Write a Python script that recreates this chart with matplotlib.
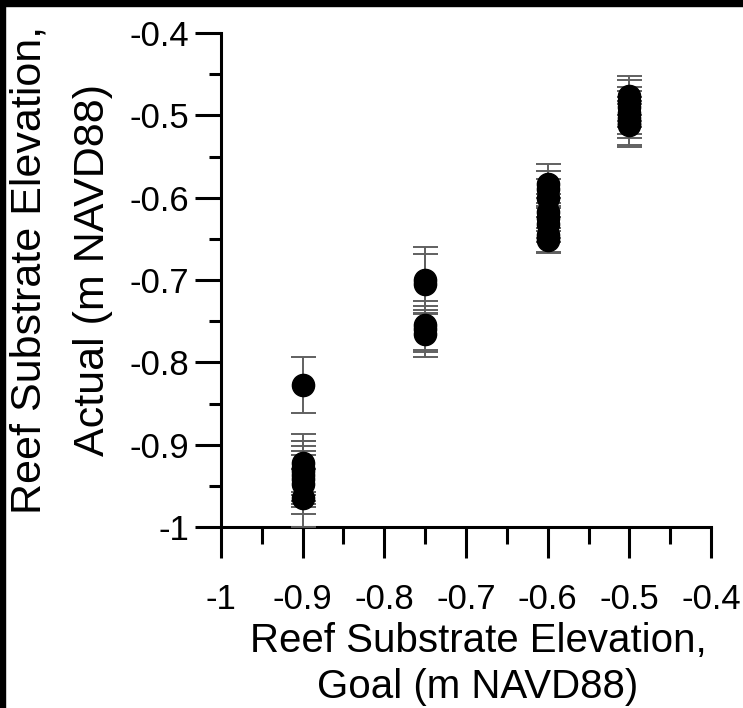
"""Reef substrate elevation: goal vs. actual, with error bars."""
import matplotlib
matplotlib.use("Agg")
import matplotlib.pyplot as plt
from matplotlib.patches import Rectangle
from matplotlib.ticker import MultipleLocator

plt.rcParams["font.family"] = ["Liberation Sans", "DejaVu Sans"]

# goal elevation for each reef element (m NAVD88)
goal = [-0.9, -0.9, -0.9, -0.9, -0.9, -0.9, -0.9, -0.9,
        -0.75, -0.75, -0.75, -0.75, -0.75,
        -0.6, -0.6, -0.6, -0.6, -0.6, -0.6, -0.6, -0.6,
        -0.5, -0.5, -0.5, -0.5, -0.5, -0.5, -0.5]
# measured elevation (m NAVD88)
actual = [-0.827, -0.922, -0.928, -0.932, -0.937, -0.942, -0.948, -0.965,
          -0.700, -0.705, -0.755, -0.760, -0.765,
          -0.583, -0.590, -0.600, -0.618, -0.625, -0.632, -0.645, -0.652,
          -0.476, -0.482, -0.490, -0.497, -0.503, -0.509, -0.512]
# standard deviation of the measurements
err = [0.034, 0.035, 0.033, 0.036, 0.035, 0.034, 0.036, 0.035,
       0.040, 0.036, 0.030, 0.028, 0.028,
       0.024, 0.022, 0.023, 0.022, 0.024, 0.022, 0.021, 0.015,
       0.024, 0.025, 0.024, 0.026, 0.025, 0.027, 0.026]

fig = plt.figure(figsize=(7.43, 7.08), dpi=100)
ax = fig.add_axes([221 / 743, 1 - 527 / 708, 490 / 743, 494 / 708])

ax.errorbar(goal, actual, yerr=err, fmt="o", color="black", ms=16,
            ecolor="#606060", elinewidth=1.4, capsize=9, capthick=1.4,
            zorder=3)

ax.set_xlim(-1, -0.4)
ax.set_ylim(-1, -0.4)
for a in (ax.xaxis, ax.yaxis):
    a.set_major_locator(MultipleLocator(0.1))
    a.set_minor_locator(MultipleLocator(0.05))

ax.xaxis.set_major_formatter(lambda v, p: f"{v:g}")
ax.yaxis.set_major_formatter(lambda v, p: f"{v:g}")

for side in ("top", "right"):
    ax.spines[side].set_visible(False)
for side in ("left", "bottom"):
    ax.spines[side].set_linewidth(2.2)

ax.tick_params(which="major", direction="out", width=2.2, labelsize=25,
               colors="black")
ax.tick_params(axis="x", which="major", length=22, pad=18)
ax.tick_params(axis="x", which="minor", direction="out", length=12, width=2.2)
ax.tick_params(axis="y", which="major", length=19, pad=4)
ax.tick_params(axis="y", which="minor", direction="out", length=9, width=2.2)

# axis titles, two lines each
fig.text(478 / 743, 1 - 641 / 708, "Reef Substrate Elevation,",
         ha="center", va="center", fontsize=29)
fig.text(478 / 743, 1 - 687 / 708, "Goal (m NAVD88)",
         ha="center", va="center", fontsize=29)
fig.text(30 / 743, 1 - 270 / 708, "Reef Substrate Elevation,",
         ha="center", va="center", rotation=90, fontsize=31)
fig.text(93 / 743, 1 - 270 / 708, "Actual (m NAVD88)",
         ha="center", va="center", rotation=90, fontsize=31)

# dark frame along top and left edges
fig.patches.append(Rectangle((0, 1 - 6 / 708), 1, 6 / 708,
                             transform=fig.transFigure, color="black"))
fig.patches.append(Rectangle((0, 0), 5 / 743, 1,
                             transform=fig.transFigure, color="black"))

fig.savefig("out.png", dpi=100)
